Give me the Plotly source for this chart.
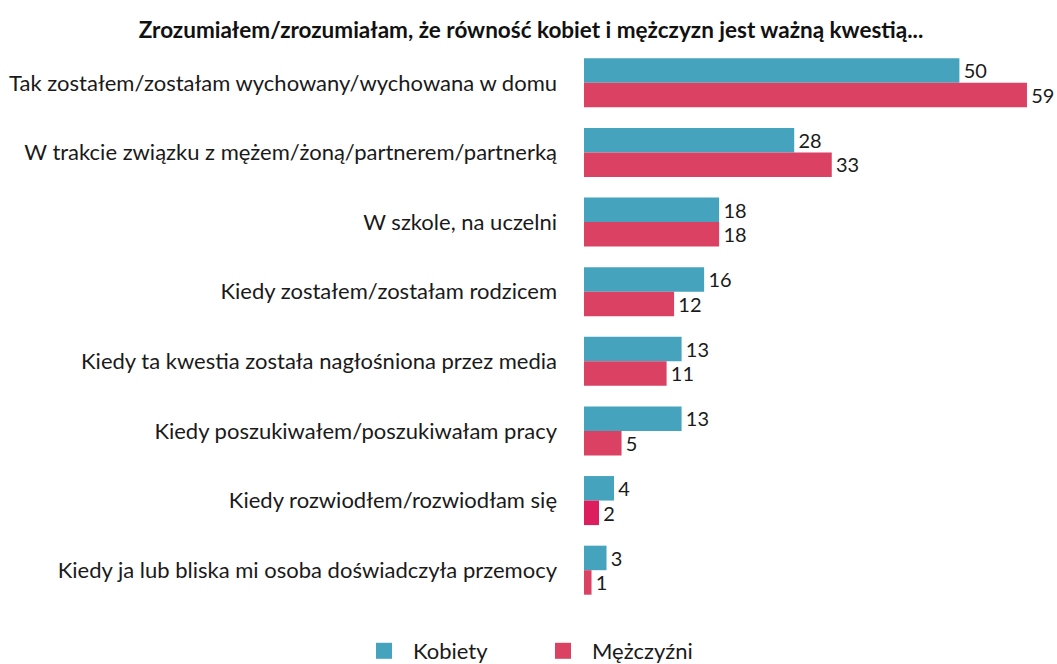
import plotly.graph_objects as go

categories = [
    "Tak zostałem/zostałam wychowany/wychowana w domu",
    "W trakcie związku z mężem/żoną/partnerem/partnerką",
    "W szkole, na uczelni",
    "Kiedy zostałem/zostałam rodzicem",
    "Kiedy ta kwestia została nagłośniona przez media",
    "Kiedy poszukiwałem/poszukiwałam pracy",
    "Kiedy rozwiodłem/rozwiodłam się",
    "Kiedy ja lub bliska mi osoba doświadczyła przemocy",
]
kobiety = [50, 28, 18, 16, 13, 13, 4, 3]
mezczyzni = [59, 33, 18, 12, 11, 5, 2, 1]
series_names = ["Kobiety", "Mężczyźni"]
title_text = "Zrozumiałem/zrozumiałam, że równość kobiet i mężczyzn jest ważną kwestią..."

teal = "#45a3be"
pink = "#db4162"
men_colors = [pink] * 6 + ["#dc1e5e", pink]

FONT = "Lato, Carlito, sans-serif"
TXT = "#1a1a1a"

W, H = 1057, 664

fig = go.Figure()
fig.add_trace(go.Bar(
    y=categories, x=kobiety, orientation="h", name=series_names[0],
    marker=dict(color=teal, line=dict(width=0)),
    text=kobiety, texttemplate="\u200a%{x}", textposition="outside", cliponaxis=False,
    textfont=dict(family=FONT, size=22, color=TXT), showlegend=False,
))
fig.add_trace(go.Bar(
    y=categories, x=mezczyzni, orientation="h", name=series_names[1],
    marker=dict(color=men_colors, line=dict(width=0)),
    text=mezczyzni, texttemplate="\u200a%{x}", textposition="outside", cliponaxis=False,
    textfont=dict(family=FONT, size=22, color=TXT), showlegend=False,
))
# legend keys
for nm, col in zip(series_names, [teal, pink]):
    fig.add_trace(go.Scatter(
        x=[None], y=[None], mode="markers", name=nm,
        marker=dict(symbol="square", size=22, color=col, line=dict(width=0)),
    ))

fig.update_layout(
    width=W, height=H,
    margin=dict(l=584, r=0, t=48, b=59),
    paper_bgcolor="white", plot_bgcolor="white",
    barmode="group", bargap=0.296, bargroupgap=0,
    font=dict(family=FONT, size=22, color=TXT),
    title=dict(text="<b>" + title_text + "</b>", x=531 / W, xanchor="center",
               xref="container", yref="container",
               y=1 - 30 / H, yanchor="middle",
               font=dict(family=FONT, size=22.5, color="#111")),
    showlegend=True,
    legend=dict(orientation="h", xref="container", yref="container",
                x=534 / W, xanchor="center", y=13 / H, yanchor="middle",
                font=dict(family=FONT, size=22, color=TXT),
                traceorder="normal", itemwidth=48, entrywidth=116,
                itemsizing="trace"),
)
fig.update_xaxes(range=[0, 63], visible=False, showgrid=False, zeroline=False)
fig.update_yaxes(autorange="reversed", showgrid=False, zeroline=False, showline=False,
                 ticks="", ticklabelstandoff=26,
                 tickfont=dict(family=FONT, size=22, color=TXT))

fig.write_html("out.html", config={"displayModeBar": False},
               post_script="document.body.style.margin='0';document.body.style.overflow='hidden';")
